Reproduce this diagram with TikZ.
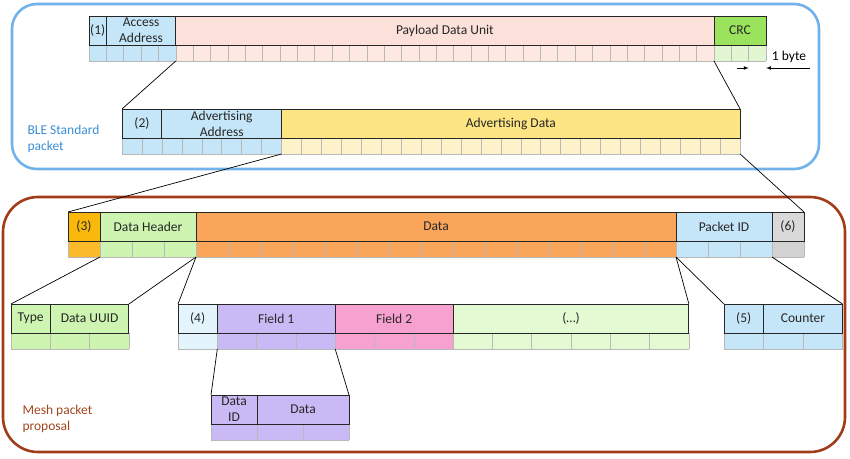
\documentclass[tikz,border=0pt]{standalone}
\usepackage{fontspec}
\setmainfont{Carlito}
\usetikzlibrary{backgrounds}

\definecolor{lblue}{HTML}{C5E6F8}
\definecolor{salmon}{HTML}{FCE1DA}
\definecolor{salmonL}{HTML}{FDE8E2}
\definecolor{crcgreen}{HTML}{9BE35D}
\definecolor{crcgreenL}{HTML}{E2F6D2}
\definecolor{yellow}{HTML}{FDE584}
\definecolor{yellowL}{HTML}{FEF3C8}
\definecolor{gold}{HTML}{F9B80A}
\definecolor{goldL}{HTML}{FBBA2A}
\definecolor{lgreen}{HTML}{CDF5B1}
\definecolor{orange}{HTML}{F9A65B}
\definecolor{lgray}{HTML}{D9D9D9}
\definecolor{lgrayL}{HTML}{D2D2D2}
\definecolor{paleblue}{HTML}{E4F4FC}
\definecolor{purple}{HTML}{C9BAF6}
\definecolor{pink}{HTML}{F7A1D1}
\definecolor{palegreen}{HTML}{E4FAD3}
\definecolor{frameblue}{HTML}{72B2EA}
\definecolor{framebrown}{HTML}{A23B18}
\definecolor{bletext}{HTML}{3B8DD6}
\definecolor{meshtext}{HTML}{A0461F}

\tikzset{
    hdrbox/.style={draw=black!85, line width=0.9pt, anchor=north west, minimum height=29,
        inner sep=0pt, outer sep=0pt, align=center, text=black!85},
    byterow/.style={anchor=north west, minimum height=16, inner sep=0pt, outer sep=0pt},
    bytesep/.style={draw=black!28, line width=0.5pt},
    link/.style={draw=black, line width=0.7pt},
    frame/.style={line width=2.6pt},
}

% field box with its byte cells: name, position, bytes, byte width, colour, byte colour, text
\newcommand{\pfield}[7]{%
    \node[hdrbox, fill=#5, minimum width=#3*#4] (#1) at #2 {#7};
    \begin{scope}[on background layer]
        \node[byterow, fill=#6, minimum width=#3*#4] (#1b) at (#1.south west) {};
        \foreach \k in {0,...,#3}
            \draw[bytesep] ([xshift=\k*#4]#1b.north west) -- ([xshift=\k*#4]#1b.south west);
        \draw[bytesep] (#1b.south west) -- (#1b.south east);
    \end{scope}
}

\begin{document}
\begin{tikzpicture}[x=1pt, y=-1pt, font=\fontsize{13.5}{16}\selectfont]
    \useasboundingbox (0,0) rectangle (850,458);

    % frames
    \begin{scope}[on background layer]
        \draw[frame, draw=frameblue, rounded corners=25] (12,4) rectangle (819,169);
        \draw[frame, draw=framebrown, rounded corners=35] (3,197) rectangle (845,452);
    \end{scope}
    \node[anchor=west, align=left, text=bletext] (ble) at (24,139) {BLE Standard\\packet};
    \node[anchor=west, align=left, text=meshtext] (mesh) at (19,419) {Mesh packet\\proposal};

    % BLE packet
    \pfield{pre1}{(89,16)}{1}{17.36}{lblue}{lblue}{(1)}
    \pfield{aa}{(pre1.north east)}{4}{17.36}{lblue}{lblue}{Access\\Address}
    \pfield{pdu}{(aa.north east)}{31}{17.36}{salmon}{salmonL}{Payload Data Unit}
    \pfield{crc}{(pdu.north east)}{3}{17.36}{crcgreen}{crcgreenL}{CRC}

    \node (onebyte) at (789,57) {1 byte};
    \coordinate (tickL) at ([xshift=2*17.36, yshift=-7]crcb.south west);
    \coordinate (tickR) at ([yshift=-7]crcb.south east);
    \draw[-latex, line width=0.7pt] ([xshift=-12]tickL) -- (tickL);
    \draw[-latex, line width=0.7pt] (tickR -| onebyte.east) -- (tickR);

    % advertising PDU
    \pfield{pre2}{(122,109)}{2}{19.94}{lblue}{lblue}{(2)}
    \pfield{adr}{(pre2.north east)}{6}{19.94}{lblue}{lblue}{Advertising\\Address}
    \pfield{adv}{(adr.north east)}{23}{19.94}{yellow}{yellowL}{Advertising Data}

    \draw[link] (aab.south east) -- (pre2.north west);
    \draw[link] (crcb.south west) -- (adv.north east);

    % mesh packet
    \pfield{pre3}{(68,212)}{1}{32}{gold}{goldL}{(3)}
    \pfield{dh}{(pre3.north east)}{3}{32}{lgreen}{lgreen}{Data Header}
    \pfield{data}{(dh.north east)}{15}{32}{orange}{orange}{Data}
    \pfield{pid}{(data.north east)}{3}{32}{lblue}{lblue}{Packet ID}
    \pfield{pre6}{(pid.north east)}{1}{32}{lgray}{lgrayL}{(6)}

    \draw[link] (adrb.south east) -- (pre3.north west);
    \draw[link] (advb.south east) -- (pre6.north east);

    % data header
    \pfield{type}{(11,304)}{1}{39.3}{lgreen}{lgreen}{Type}
    \pfield{uuid}{(type.north east)}{2}{39.3}{lgreen}{lgreen}{Data UUID}
    \draw[link] (dhb.south west) -- (type.north west);
    \draw[link] (dhb.south east) -- (uuid.north east);

    % data
    \pfield{pre4}{(178,304)}{1}{39.3}{paleblue}{paleblue}{(4)}
    \pfield{f1}{(pre4.north east)}{3}{39.3}{purple}{purple}{Field 1}
    \pfield{f2}{(f1.north east)}{3}{39.3}{pink}{pink}{Field 2}
    \pfield{more}{(f2.north east)}{6}{39.3}{palegreen}{palegreen}{(\ldots)}
    \draw[link] (datab.south west) -- (pre4.north west);
    \draw[link] (datab.south east) -- (more.north east);

    % packet id
    \pfield{pre5}{(724,304)}{1}{39.5}{lblue}{lblue}{(5)}
    \pfield{cnt}{(pre5.north east)}{2}{39.5}{lblue}{lblue}{Counter}
    \draw[link] (pidb.south west) -- (pre5.north west);
    \draw[link] (pidb.south east) -- (cnt.north east);

    % field
    \pfield{did}{(211,395)}{1}{46}{purple}{purple}{Data\\ID}
    \pfield{dd}{(did.north east)}{2}{46}{purple}{purple}{Data}
    \draw[link] (f1b.south west) -- (did.north west);
    \draw[link] (f1b.south east) -- (dd.north east);
\end{tikzpicture}
\end{document}
